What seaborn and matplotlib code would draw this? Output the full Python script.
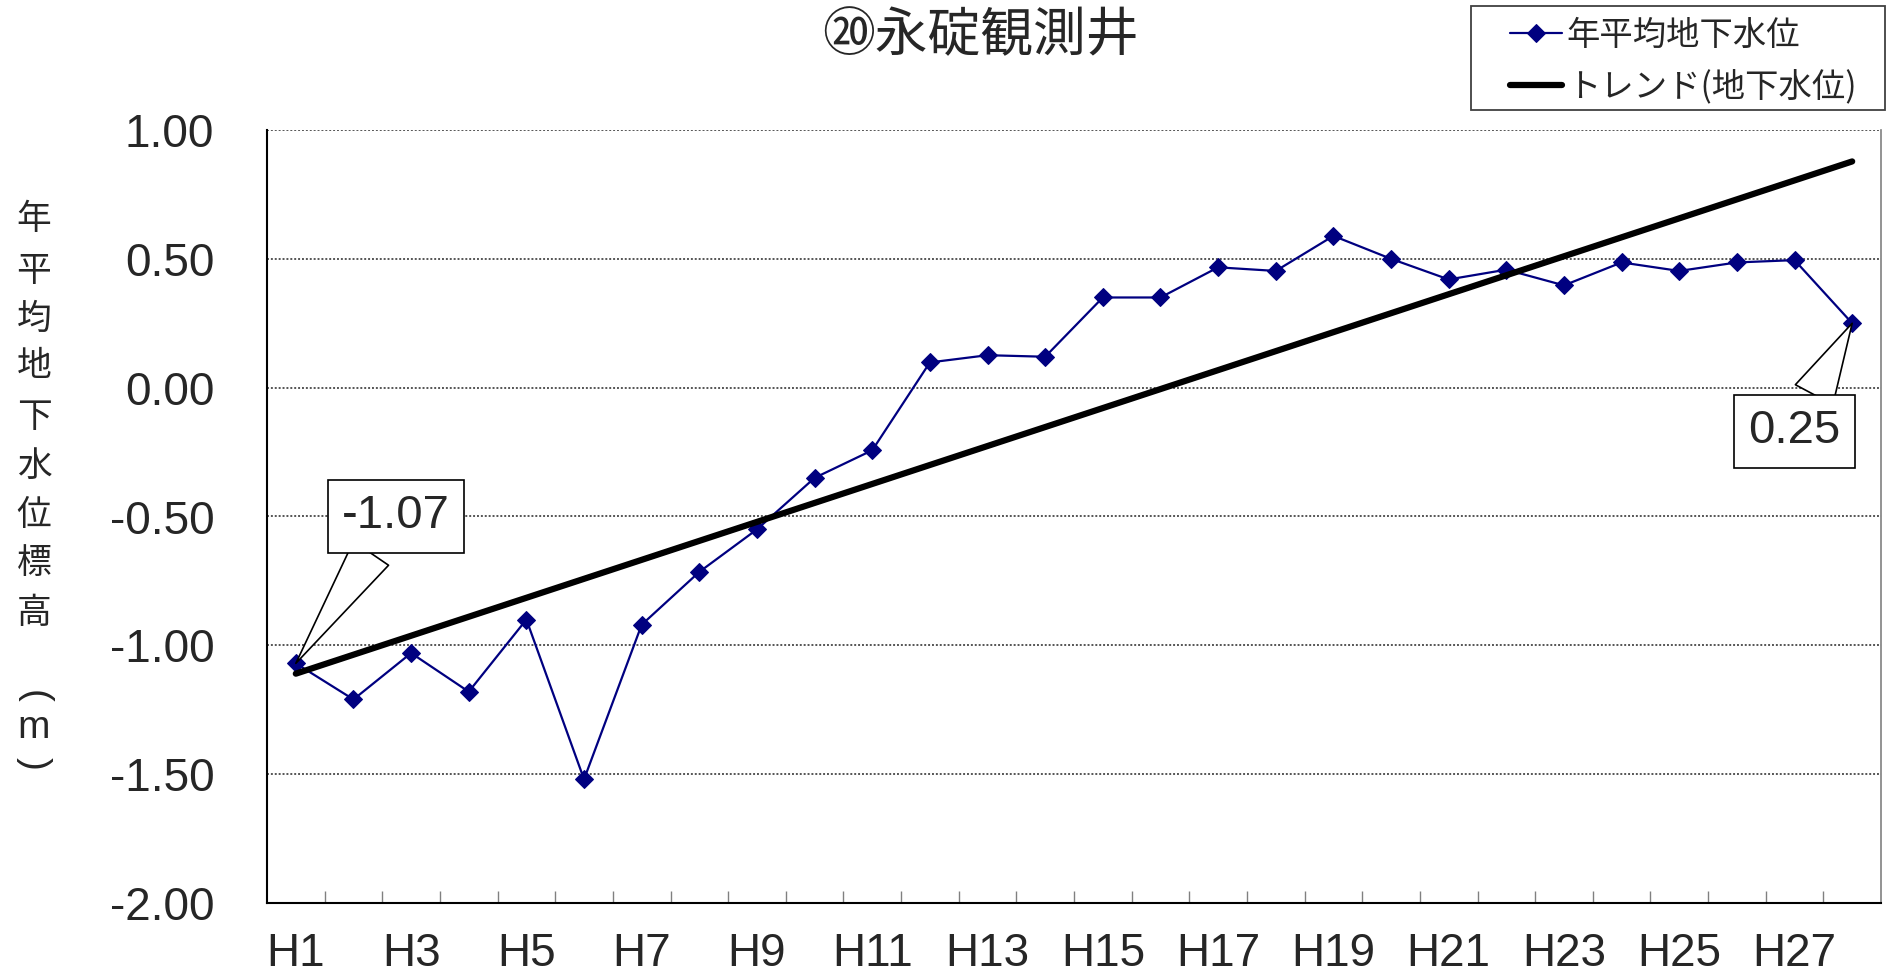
import numpy as np
import pandas as pd
import matplotlib
matplotlib.use('Agg')
import matplotlib.pyplot as plt
from matplotlib.patches import Rectangle
import seaborn as sns

# data
years = ['H1', 'H2', 'H3', 'H4', 'H5', 'H6', 'H7', 'H8', 'H9', 'H10',
         'H11', 'H12', 'H13', 'H14', 'H15', 'H16', 'H17', 'H18', 'H19', 'H20',
         'H21', 'H22', 'H23', 'H24', 'H25', 'H26', 'H27', 'H28']
level = [-1.07, -1.21, -1.03, -1.18, -0.90, -1.52, -0.92, -0.715, -0.55, -0.35,
         -0.243, 0.098, 0.126, 0.12, 0.35, 0.35, 0.467, 0.453, 0.589, 0.50,
         0.42, 0.458, 0.397, 0.486, 0.453, 0.486, 0.495, 0.25]
trend_years = ['H1', 'H28']
trend_level = [-1.11, 0.878]

title = '⑳永碇観測井'
ylabel_chars = ['年', '平', '均', '地', '下', '水', '位', '標', '高']
label_series = '年平均地下水位'
label_trend = 'トレンド(地下水位)'

sns.set_theme(style='white')
plt.rcParams['font.family'] = ['Liberation Sans', 'Noto Sans CJK JP', 'DejaVu Sans']
cjk = ['Noto Sans CJK JP', 'DejaVu Sans']

df = pd.DataFrame({'year': years, 'level': level})
df_trend = pd.DataFrame({'year': trend_years, 'level': trend_level})

W, H = 1887, 980
fig = plt.figure(figsize=(W / 100, H / 100), dpi=100)
ax = fig.add_axes([267 / W, 1 - 903 / H, (1881 - 267) / W, (903 - 130) / H])

sns.lineplot(data=df, x='year', y='level', ax=ax, sort=False, color='#000080',
             linewidth=1.6, marker='D', markersize=9, markeredgecolor='#000080',
             label=label_series, zorder=3)
sns.lineplot(data=df_trend, x='year', y='level', ax=ax, sort=False, color='black',
             linewidth=4.5, label=label_trend, zorder=4)

ax.set_xlim(-0.5, len(years) - 0.5)
ax.set_ylim(-2.0, 1.0)
yt = np.arange(-2.0, 1.01, 0.5)
ax.set_yticks(yt)
ax.set_yticklabels(['%.2f' % v for v in yt], fontsize=33)
ax.set_xticks(range(0, len(years), 2))
ax.set_xticklabels(years[::2], fontsize=33)
ax.set_xticks(np.arange(0.5, len(years) - 1, 1), minor=True)
ax.tick_params(axis='x', which='major', length=0, pad=21)
ax.tick_params(axis='x', which='minor', direction='in', length=9, width=1, color='#808080', bottom=True)
ax.tick_params(axis='y', length=0, pad=38)
ax.set_xlabel('')
ax.set_ylabel('')

ax.yaxis.grid(True, linestyle=(0, (1, 1)), color='#555555', linewidth=1.4)
ax.xaxis.grid(False)
for side in ['left', 'bottom']:
    ax.spines[side].set_color('black')
    ax.spines[side].set_linewidth(1.5)
ax.spines['top'].set_visible(False)
ax.spines['right'].set_color('#808080')
ax.spines['right'].set_linewidth(1.2)

# callouts for first and last values
box = dict(boxstyle='square,pad=0.3', fc='white', ec='black', lw=1.2)
wedge = dict(arrowstyle='wedge,tail_width=0.9', fc='white', ec='black', lw=1.2,
             shrinkA=0, shrinkB=0)
ax.annotate('%.2f' % level[0], xy=(0, level[0]), xytext=(1.74, -0.50),
            fontsize=34, ha='center', va='center', bbox=box, arrowprops=wedge, zorder=6)
ax.annotate('%.2f' % level[-1], xy=(len(years) - 1, level[-1]), xytext=(26.0, -0.17),
            fontsize=34, ha='center', va='center', bbox=box, arrowprops=wedge, zorder=6)

# legend with a hand placed frame
ax.legend_.remove()
handles, labels = ax.get_legend_handles_labels()
fig.legend(handles, labels, loc='upper left', bbox_to_anchor=(1510 / W, 1 - 18 / H),
           bbox_transform=fig.transFigure, frameon=False, prop={'family': cjk, 'size': 24},
           handlelength=1.55, handletextpad=0.15, borderpad=0, borderaxespad=0,
           labelspacing=0.5)
fig.patches.append(Rectangle((1471 / W, 1 - 110 / H), (1885 - 1471) / W, (110 - 6) / H,
                             transform=fig.transFigure, fill=False, ec='#404040', lw=1.3))

fig.text(980 / W, 1 - 36 / H, title, ha='center', va='center', fontsize=38, family=cjk)

ypix = [220, 271, 319, 367, 418, 466, 515, 563, 614]
for ch, yp in zip(ylabel_chars, ypix):
    fig.text(34 / W, 1 - yp / H, ch, ha='center', va='center', fontsize=25, family=cjk)
fig.text(34 / W, 1 - 696 / H, '(', ha='center', va='center', fontsize=28, rotation=-90)
fig.text(34 / W, 1 - 728 / H, 'm', ha='center', va='center', fontsize=28)
fig.text(34 / W, 1 - 763 / H, ')', ha='center', va='center', fontsize=28, rotation=-90)

fig.savefig('out.png', dpi=100)
